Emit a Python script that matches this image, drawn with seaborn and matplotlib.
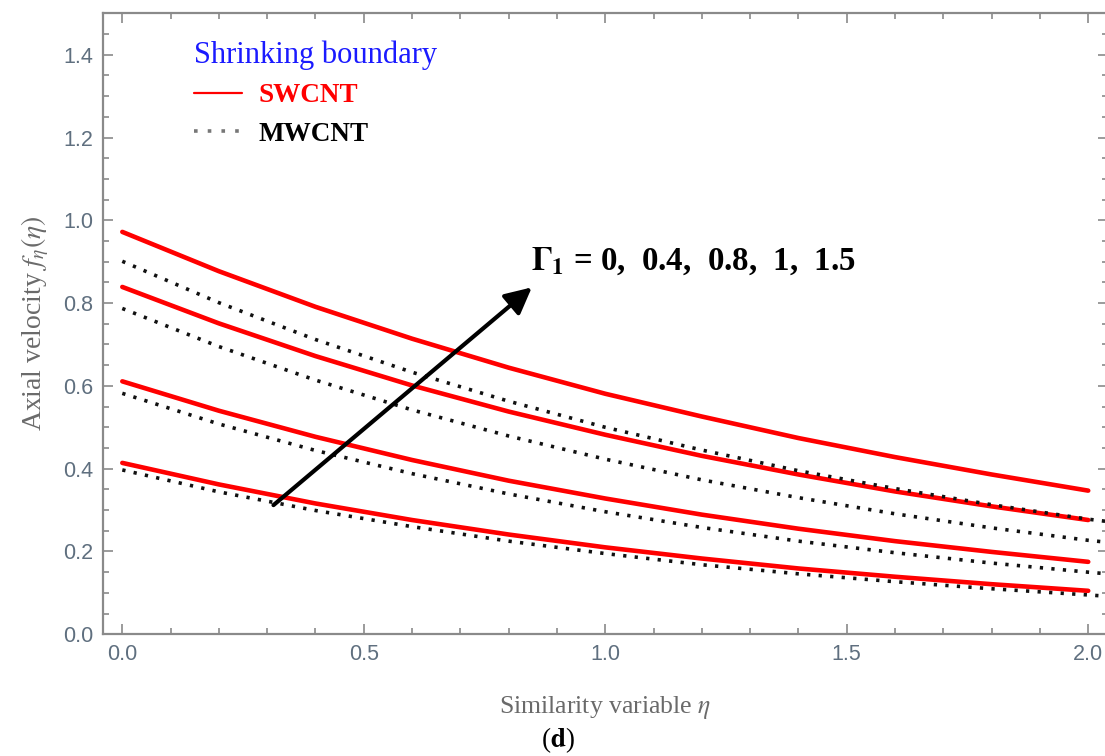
import matplotlib
matplotlib.use("Agg")
import matplotlib.pyplot as plt
import numpy as np
import pandas as pd
import seaborn as sns
from matplotlib.lines import Line2D
from matplotlib.ticker import MultipleLocator

# similarity variable grid (MWCNT curves run on to the frame edge)
ETA = [0.0, 0.2, 0.4, 0.6, 0.8, 1.0, 1.2, 1.4, 1.6, 1.8, 2.0]
ETA_MW = ETA + [2.05]

# SWCNT, solid red, bottom to top
SW1 = [0.414, 0.362, 0.316, 0.276, 0.241, 0.210, 0.183, 0.159, 0.139, 0.121, 0.105]
SW2 = [0.611, 0.540, 0.477, 0.421, 0.371, 0.328, 0.289, 0.255, 0.225, 0.199, 0.175]
SW3 = [0.839, 0.751, 0.672, 0.601, 0.538, 0.482, 0.431, 0.386, 0.345, 0.309, 0.276]
SW4 = [0.972, 0.877, 0.791, 0.714, 0.644, 0.581, 0.526, 0.474, 0.428, 0.386, 0.347]

# MWCNT, dotted black, bottom to top
MW1 = [0.397, 0.344, 0.299, 0.260, 0.225, 0.195, 0.168, 0.146, 0.127, 0.110, 0.095, 0.091]
MW2 = [0.582, 0.508, 0.444, 0.388, 0.339, 0.296, 0.258, 0.225, 0.197, 0.172, 0.150, 0.145]
MW3 = [0.787, 0.695, 0.614, 0.542, 0.479, 0.423, 0.373, 0.330, 0.291, 0.257, 0.227, 0.221]
MW4 = [0.901, 0.801, 0.712, 0.633, 0.563, 0.500, 0.445, 0.395, 0.352, 0.313, 0.278, 0.271]

GAMMA_TEXT = r"$\mathbf{\Gamma_1}$ = 0,  0.4,  0.8,  1,  1.5"

sns.set_theme(style="ticks")
plt.rcParams["font.family"] = ["Liberation Sans", "DejaVu Sans"]
plt.rcParams["mathtext.fontset"] = "stix"

FRAME = "#8a8a8a"
LABEL_GRAY = "#6a6a6a"
TICK_GRAY = "#5f6f7f"
SERIF = ["Liberation Serif", "DejaVu Serif"]
DOTS = (0, (0.9, 2.3))

rows = []
for i, ys in enumerate([SW1, SW2, SW3, SW4]):
    rows += [("SWCNT", i, x, y) for x, y in zip(ETA, ys)]
for i, ys in enumerate([MW1, MW2, MW3, MW4]):
    rows += [("MWCNT", i, x, y) for x, y in zip(ETA_MW, ys)]
df = pd.DataFrame(rows, columns=["fluid", "curve", "eta", "f"])

fig = plt.figure(figsize=(11.05, 7.56), dpi=100)
ax = fig.add_axes([0.0932, 0.1610, 0.9091, 0.8214])

for i, sub in df[df.fluid == "SWCNT"].groupby("curve"):
    sns.lineplot(data=sub, x="eta", y="f", color="#ff0000", linewidth=3.3,
                 ax=ax, legend=False)
for i, sub in df[df.fluid == "MWCNT"].groupby("curve"):
    sns.lineplot(data=sub, x="eta", y="f", color="#111111", linewidth=2.6,
                 linestyle=DOTS, ax=ax, legend=False)

ax.set_xlim(-0.04, 2.04)
ax.set_ylim(0, 1.5)
ax.xaxis.set_major_locator(MultipleLocator(0.5))
ax.xaxis.set_minor_locator(MultipleLocator(0.1))
ax.yaxis.set_major_locator(MultipleLocator(0.2))
ax.yaxis.set_minor_locator(MultipleLocator(0.05))
ax.set_yticks(np.arange(0, 1.41, 0.2))
ax.tick_params(which="both", direction="in", top=True, right=True,
               color=FRAME, width=1.2, labelcolor=TICK_GRAY, labelsize=15.5)
ax.tick_params(which="major", length=7.5, pad=7)
ax.tick_params(which="minor", length=4.5)
for sp in ax.spines.values():
    sp.set_color(FRAME)
    sp.set_linewidth(1.6)

ax.set_xlabel(r"Similarity variable $\eta$", family=SERIF, fontsize=18.5,
              color=LABEL_GRAY, labelpad=21)
ax.set_ylabel(r"Axial velocity $f_{\eta}(\eta)$", family=SERIF, fontsize=20,
              color=LABEL_GRAY, labelpad=9)

# arrow showing the direction of increasing Gamma_1
ax.annotate("", xy=(0.848, 0.838), xytext=(0.313, 0.312),
            arrowprops=dict(arrowstyle="-|>", color="black", lw=3,
                            mutation_scale=40, shrinkA=0, shrinkB=0))
ax.text(0.846, 0.881, GAMMA_TEXT, family=SERIF, fontweight="bold",
        fontsize=23.7, ha="left", va="baseline", color="black")

handles = [Line2D([], [], color="#ff0000", lw=1.6),
           Line2D([], [], color="#777777", lw=2.6, linestyle=(0, (1, 2.8)))]
leg = ax.legend(handles, ["SWCNT", "MWCNT"], title="Shrinking boundary",
                loc="upper left", bbox_to_anchor=(0.091, 0.957), frameon=False,
                prop={"family": SERIF, "weight": "bold", "size": 19.5},
                title_fontproperties={"family": SERIF, "size": 22},
                alignment="left", handlelength=1.75, handletextpad=0.6,
                labelspacing=0.5, borderpad=0, borderaxespad=0)
leg.get_title().set_color("#1a1aff")
leg.get_texts()[0].set_color("#ff0000")
leg.get_texts()[1].set_color("black")

fig.text(0.505, 0.012, r"($\mathbf{d}$)", family=SERIF, fontsize=19.5,
         ha="center", va="baseline", color="black")

plt.savefig("out.png", dpi=100)
plt.close()
